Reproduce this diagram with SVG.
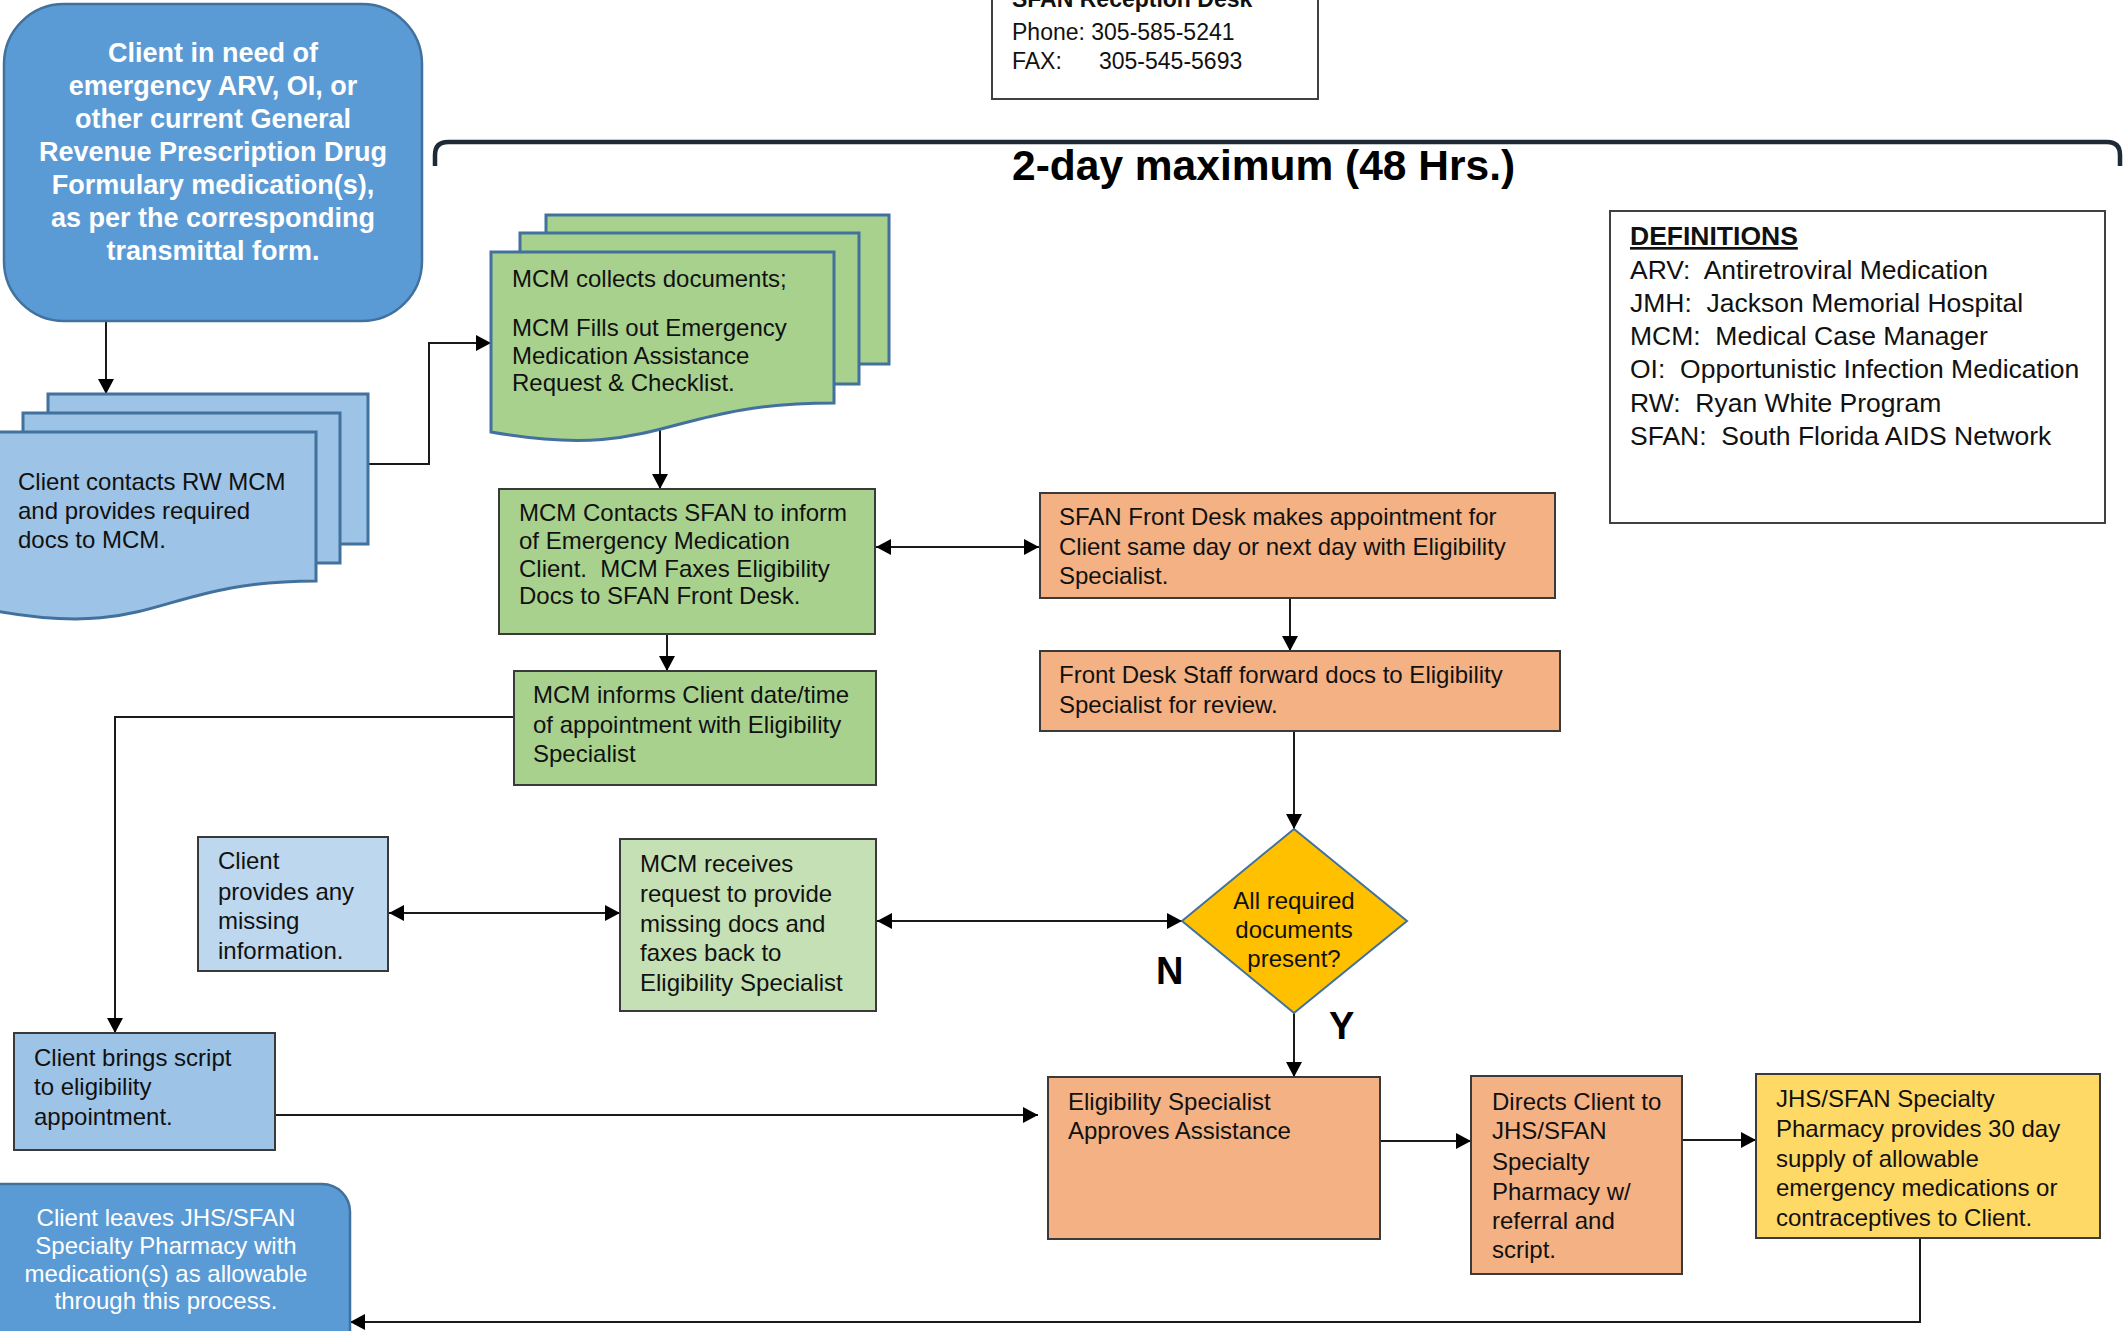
<svg xmlns="http://www.w3.org/2000/svg" width="2123" height="1331" viewBox="0 0 2123 1331">
<style>
text{font-family:"Liberation Sans",Arial,sans-serif;font-size:24px;fill:#111;white-space:pre}
.w{fill:#fff}
.c{text-anchor:middle}
.b{font-weight:bold}
.d{font-size:26.5px}
.box{stroke:#3a3a3a;stroke-width:2}
.bl{stroke:#41719C;stroke-width:3}
.cn{fill:none;stroke:#1a1a1a;stroke-width:2}
</style>
<defs>
<marker id="ah" viewBox="0 0 15 16" refX="15" refY="8" markerWidth="15" markerHeight="16" markerUnits="userSpaceOnUse" orient="auto-start-reverse">
<path d="M0,0 L15,8 L0,16 z" fill="#000"/>
</marker>
</defs>
<rect width="2123" height="1331" fill="#fff"/>

<g id="connectors">
<path class="cn" d="M106,321 V394" marker-end="url(#ah)"/>
<path class="cn" d="M368,464 H429 V343 H491" marker-end="url(#ah)"/>
<path class="cn" d="M660,429 V489" marker-end="url(#ah)"/>
<path class="cn" d="M876,547 H1039" marker-start="url(#ah)" marker-end="url(#ah)"/>
<path class="cn" d="M667,634 V671" marker-end="url(#ah)"/>
<path class="cn" d="M1290,598 V651" marker-end="url(#ah)"/>
<path class="cn" d="M1294,731 V829" marker-end="url(#ah)"/>
<path class="cn" d="M514,717 H115 V1033" marker-end="url(#ah)"/>
<path class="cn" d="M389,913 H620" marker-start="url(#ah)" marker-end="url(#ah)"/>
<path class="cn" d="M877,921 H1182" marker-start="url(#ah)" marker-end="url(#ah)"/>
<path class="cn" d="M1294,1013 V1077" marker-end="url(#ah)"/>
<path class="cn" d="M275,1115 H1038" marker-end="url(#ah)"/>
<path class="cn" d="M1380,1141 H1471" marker-end="url(#ah)"/>
<path class="cn" d="M1682,1140 H1756" marker-end="url(#ah)"/>
<path class="cn" d="M1920,1238 V1322 H350" marker-end="url(#ah)"/>
</g>

<g id="bracket">
<path d="M435,166 V155 Q435,142 448,142 H2107 Q2120,142 2120,155 V166" fill="none" stroke="#1F2A37" stroke-width="4.5"/>
<text class="b" x="1012" y="180" style="font-size:42.5px;fill:#000">2-day maximum (48 Hrs.)</text>
</g>

<g id="sfan-desk">
<rect x="992" y="-20" width="326" height="119" fill="#fff" stroke="#404040" stroke-width="2"/>
<text class="b" x="1012" y="7" style="font-size:23px">SFAN Reception Desk</text>
<text x="1012" y="40" style="font-size:23px">Phone: 305-585-5241</text>
<text x="1012" y="69" style="font-size:23px">FAX:</text>
<text x="1099" y="69" style="font-size:23px">305-545-5693</text>
</g>

<g id="definitions">
<rect x="1610" y="211" width="495" height="312" fill="#fff" stroke="#404040" stroke-width="2"/>
<text class="b d" x="1630" y="245" style="text-decoration:underline">DEFINITIONS</text>
<text class="d" x="1630" y="279">ARV:  Antiretroviral Medication</text>
<text class="d" x="1630" y="312">JMH:  Jackson Memorial Hospital</text>
<text class="d" x="1630" y="345">MCM:  Medical Case Manager</text>
<text class="d" x="1630" y="378">OI:  Opportunistic Infection Medication</text>
<text class="d" x="1630" y="412">RW:  Ryan White Program</text>
<text class="d" x="1630" y="445">SFAN:  South Florida AIDS Network</text>
</g>

<g id="start">
<rect x="4" y="4" width="418" height="317" rx="60" fill="#5B9BD5" stroke="#41719C" stroke-width="2.5"/>
<text class="w b c" x="213" y="62" style="font-size:27px">Client in need of</text>
<text class="w b c" x="213" y="95" style="font-size:27px">emergency ARV, OI, or</text>
<text class="w b c" x="213" y="128" style="font-size:27px">other current General</text>
<text class="w b c" x="213" y="161" style="font-size:27px">Revenue Prescription Drug</text>
<text class="w b c" x="213" y="194" style="font-size:27px">Formulary medication(s),</text>
<text class="w b c" x="213" y="227" style="font-size:27px">as per the corresponding</text>
<text class="w b c" x="213" y="260" style="font-size:27px">transmittal form.</text>
</g>

<g id="client-contacts">
<rect class="bl" x="48" y="394" width="320" height="150" fill="#9DC3E6"/>
<rect class="bl" x="23" y="413" width="317" height="150" fill="#9DC3E6"/>
<path class="bl" d="M-4,432 H316 V581 C157,581 157,640 -4,611 Z" fill="#9DC3E6"/>
<text x="18" y="490">Client contacts RW MCM</text>
<text x="18" y="519">and provides required</text>
<text x="18" y="548">docs to MCM.</text>
</g>

<g id="mcm-collects">
<rect class="bl" x="546" y="215" width="343" height="149" fill="#A9D18E"/>
<rect class="bl" x="520" y="233" width="339" height="151" fill="#A9D18E"/>
<path class="bl" d="M491,252 H834 V403 C662,403 662,462 491,432 Z" fill="#A9D18E"/>
<text x="512" y="287">MCM collects documents;</text>
<text x="512" y="336">MCM Fills out Emergency</text>
<text x="512" y="364">Medication Assistance</text>
<text x="512" y="391">Request &amp; Checklist.</text>
</g>

<g id="mcm-contacts">
<rect class="box" x="499" y="489" width="376" height="145" fill="#A9D18E"/>
<text x="519" y="521">MCM Contacts SFAN to inform</text>
<text x="519" y="549">of Emergency Medication</text>
<text x="519" y="577">Client.  MCM Faxes Eligibility</text>
<text x="519" y="604">Docs to SFAN Front Desk.</text>
</g>

<g id="front-desk-appt">
<rect class="box" x="1040" y="493" width="515" height="105" fill="#F4B183"/>
<text x="1059" y="525">SFAN Front Desk makes appointment for</text>
<text x="1059" y="555">Client same day or next day with Eligibility</text>
<text x="1059" y="584">Specialist.</text>
</g>

<g id="front-desk-forward">
<rect class="box" x="1040" y="651" width="520" height="80" fill="#F4B183"/>
<text x="1059" y="683">Front Desk Staff forward docs to Eligibility</text>
<text x="1059" y="713">Specialist for review.</text>
</g>

<g id="mcm-informs">
<rect class="box" x="514" y="671" width="362" height="114" fill="#A9D18E"/>
<text x="533" y="703">MCM informs Client date/time</text>
<text x="533" y="733">of appointment with Eligibility</text>
<text x="533" y="762">Specialist</text>
</g>

<g id="client-provides">
<rect class="box" x="198" y="837" width="190" height="134" fill="#BDD7EE"/>
<text x="218" y="869">Client</text>
<text x="218" y="900">provides any</text>
<text x="218" y="929">missing</text>
<text x="218" y="959">information.</text>
</g>

<g id="mcm-receives">
<rect class="box" x="620" y="839" width="256" height="172" fill="#C5E0B4"/>
<text x="640" y="872">MCM receives</text>
<text x="640" y="902">request to provide</text>
<text x="640" y="932">missing docs and</text>
<text x="640" y="961">faxes back to</text>
<text x="640" y="991">Eligibility Specialist</text>
</g>

<g id="decision">
<path d="M1294,829 L1407,921 L1294,1013 L1182,921 Z" fill="#FFC000" stroke="#41719C" stroke-width="2"/>
<text class="c" x="1294" y="909">All required</text>
<text class="c" x="1294" y="938">documents</text>
<text class="c" x="1294" y="967">present?</text>
<text class="b" x="1156" y="984" style="font-size:38px;fill:#000">N</text>
<text class="b" x="1329" y="1039" style="font-size:38px;fill:#000">Y</text>
</g>

<g id="client-brings">
<rect class="box" x="14" y="1033" width="261" height="117" fill="#9DC3E6"/>
<text x="34" y="1066">Client brings script</text>
<text x="34" y="1095">to eligibility</text>
<text x="34" y="1125">appointment.</text>
</g>

<g id="client-leaves">
<rect x="-30" y="1184" width="380" height="200" rx="28" fill="#5B9BD5" stroke="#41719C" stroke-width="2.5"/>
<text class="w c" x="166" y="1226">Client leaves JHS/SFAN</text>
<text class="w c" x="166" y="1254">Specialty Pharmacy with</text>
<text class="w c" x="166" y="1282">medication(s) as allowable</text>
<text class="w c" x="166" y="1309">through this process.</text>
</g>

<g id="eligibility-approves">
<rect class="box" x="1048" y="1077" width="332" height="162" fill="#F4B183"/>
<text x="1068" y="1110">Eligibility Specialist</text>
<text x="1068" y="1139">Approves Assistance</text>
</g>

<g id="directs-client">
<rect class="box" x="1471" y="1076" width="211" height="198" fill="#F4B183"/>
<text x="1492" y="1110">Directs Client to</text>
<text x="1492" y="1139">JHS/SFAN</text>
<text x="1492" y="1170">Specialty</text>
<text x="1492" y="1200">Pharmacy w/</text>
<text x="1492" y="1229">referral and</text>
<text x="1492" y="1258">script.</text>
</g>

<g id="pharmacy-provides">
<rect class="box" x="1756" y="1074" width="344" height="164" fill="#FFD966"/>
<text x="1776" y="1107">JHS/SFAN Specialty</text>
<text x="1776" y="1137">Pharmacy provides 30 day</text>
<text x="1776" y="1167">supply of allowable</text>
<text x="1776" y="1196">emergency medications or</text>
<text x="1776" y="1226">contraceptives to Client.</text>
</g>
</svg>
